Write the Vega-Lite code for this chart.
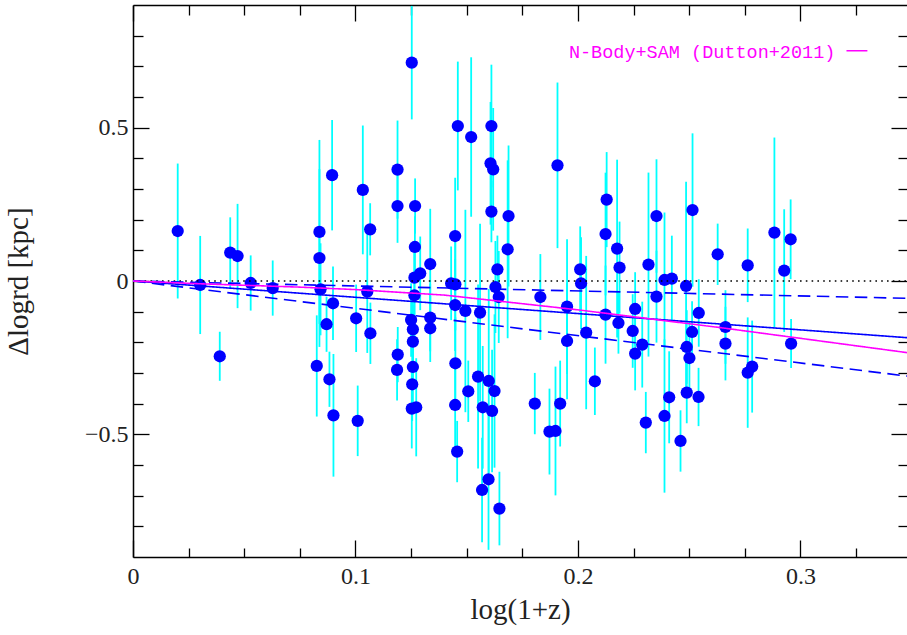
{
  "$schema": "https://vega.github.io/schema/vega-lite/v6.json",
  "width": 774,
  "height": 552,
  "autosize": "none",
  "padding": {"left": 133, "top": 5, "right": 0, "bottom": 78},
  "background": "white",
  "config": {
    "view": {"stroke": null},
    "style": {
      "guide-label": {"font": "Liberation Serif", "fontSize": 24, "fill": "#222222"},
      "guide-title": {"font": "Liberation Serif", "fontSize": 29, "fontWeight": "normal", "fill": "#222222"}
    },
    "axis": {
      "grid": false,
      "domainColor": "black",
      "domainWidth": 1.5,
      "tickColor": "black",
      "tickWidth": 1.3,
      "labelFont": "Liberation Serif",
      "labelFontSize": 24,
      "labelFlush": false,
      "labelOverlap": false
    }
  },
  "layer": [
    {
      "data": {"values": [
        {"x":0.0201,"y":0.163,"e":0.22},{"x":0.0302,"y":-0.013,"e":0.16},{"x":0.0437,"y":0.0926,"e":0.115},{"x":0.047,"y":0.0815,"e":0.17},
        {"x":0.0529,"y":-0.0065,"e":0.09},{"x":0.0628,"y":-0.023,"e":0.09},{"x":0.039,"y":-0.2455,"e":0.08},{"x":0.0838,"y":0.16,"e":0.3},
        {"x":0.0838,"y":0.075,"e":0.29},{"x":0.0843,"y":-0.027,"e":0.15},{"x":0.0895,"y":0.345,"e":0.18},{"x":0.0899,"y":-0.0727,"e":0.12},
        {"x":0.087,"y":-0.141,"e":0.09},{"x":0.0826,"y":-0.277,"e":0.165},{"x":0.0883,"y":-0.3205,"e":0.09},{"x":0.0901,"y":-0.438,"e":0.2},
        {"x":0.1003,"y":-0.1216,"e":0.11},{"x":0.101,"y":-0.456,"e":0.115},{"x":0.1033,"y":0.297,"e":0.21},{"x":0.1066,"y":0.1686,"e":0.085},
        {"x":0.1053,"y":-0.0346,"e":0.2},{"x":0.1067,"y":-0.1705,"e":0.1},{"x":0.1189,"y":0.3632,"e":0.16},{"x":0.1189,"y":0.2445,"e":0.12},
        {"x":0.119,"y":-0.24,"e":0.09},{"x":0.1187,"y":-0.29,"e":0.1},{"x":0.1253,"y":0.712,"e":0.185},{"x":0.1268,"y":0.2445,"e":0.09},
        {"x":0.1267,"y":0.111,"e":0.1},{"x":0.1265,"y":0.011,"e":0.12},{"x":0.1291,"y":0.025,"e":0.12},{"x":0.1336,"y":0.0554,"e":0.18},
        {"x":0.1265,"y":-0.0466,"e":0.15},{"x":0.125,"y":-0.127,"e":0.12},{"x":0.1258,"y":-0.1575,"e":0.12},{"x":0.1258,"y":-0.1976,"e":0.12},
        {"x":0.1258,"y":-0.2804,"e":0.12},{"x":0.1255,"y":-0.3368,"e":0.12},{"x":0.1253,"y":-0.416,"e":0.13},{"x":0.1273,"y":-0.4118,"e":0.16},
        {"x":0.1336,"y":-0.1193,"e":0.11},{"x":0.1336,"y":-0.1542,"e":0.11},{"x":0.146,"y":0.5054,"e":0.21},{"x":0.1448,"y":0.1467,"e":0.19},
        {"x":0.143,"y":-0.0075,"e":0.12},{"x":0.1449,"y":-0.0108,"e":0.15},{"x":0.1448,"y":-0.0783,"e":0.15},{"x":0.1494,"y":-0.0978,"e":0.33},
        {"x":0.1449,"y":-0.2683,"e":0.15},{"x":0.1448,"y":-0.4043,"e":0.15},{"x":0.1457,"y":-0.5562,"e":0.1},{"x":0.1507,"y":-0.3596,"e":0.1},
        {"x":0.152,"y":0.4695,"e":0.26},{"x":0.156,"y":-0.103,"e":0.29},{"x":0.1551,"y":-0.3117,"e":0.3},{"x":0.1599,"y":-0.326,"e":0.3},
        {"x":0.1625,"y":-0.3587,"e":0.25},{"x":0.1572,"y":-0.4118,"e":0.2},{"x":0.1614,"y":-0.4239,"e":0.2},{"x":0.1598,"y":-0.6466,"e":0.23},
        {"x":0.1569,"y":-0.6815,"e":0.17},{"x":0.1647,"y":-0.742,"e":0.12},{"x":0.1611,"y":0.5054,"e":0.2},{"x":0.1607,"y":0.3838,"e":0.2},
        {"x":0.1619,"y":0.3642,"e":0.2},{"x":0.1611,"y":0.2263,"e":0.1},{"x":0.1688,"y":0.2119,"e":0.23},{"x":0.1684,"y":0.1034,"e":0.29},
        {"x":0.1638,"y":0.0381,"e":0.11},{"x":0.1629,"y":-0.0196,"e":0.15},{"x":0.1644,"y":-0.0522,"e":0.15},{"x":0.1831,"y":-0.0522,"e":0.14},
        {"x":0.1908,"y":0.3772,"e":0.27},{"x":0.1951,"y":-0.0835,"e":0.22},{"x":0.1951,"y":-0.1956,"e":0.19},{"x":0.1806,"y":-0.3997,"e":0.1},
        {"x":0.1872,"y":-0.491,"e":0.14},{"x":0.1899,"y":-0.4891,"e":0.21},{"x":0.192,"y":-0.3997,"e":0.14},{"x":0.201,"y":0.0381,"e":0.14},
        {"x":0.2014,"y":-0.0075,"e":0.15},{"x":0.2037,"y":-0.1682,"e":0.25},{"x":0.2076,"y":-0.327,"e":0.11},{"x":0.2129,"y":0.2654,"e":0.155},
        {"x":0.2124,"y":0.1532,"e":0.2},{"x":0.2176,"y":0.1056,"e":0.29},{"x":0.2187,"y":0.0437,"e":0.15},{"x":0.2124,"y":-0.1096,"e":0.16},
        {"x":0.2182,"y":-0.1369,"e":0.1},{"x":0.2257,"y":-0.0913,"e":0.12},{"x":0.2246,"y":-0.163,"e":0.12},{"x":0.2289,"y":-0.2074,"e":0.14},
        {"x":0.2257,"y":-0.2367,"e":0.12},{"x":0.2305,"y":-0.4617,"e":0.1},{"x":0.2317,"y":0.0535,"e":0.3},{"x":0.2353,"y":0.2119,"e":0.185},
        {"x":0.2353,"y":-0.0509,"e":0.15},{"x":0.2389,"y":0.0033,"e":0.22},{"x":0.2422,"y":0.0078,"e":0.14},{"x":0.2389,"y":-0.4402,"e":0.25},
        {"x":0.241,"y":-0.3792,"e":0.15},{"x":0.2461,"y":-0.5217,"e":0.1},{"x":0.2486,"y":-0.0163,"e":0.34},{"x":0.2515,"y":0.2315,"e":0.25},
        {"x":0.2543,"y":-0.1043,"e":0.11},{"x":0.2513,"y":-0.1663,"e":0.1},{"x":0.2489,"y":-0.2152,"e":0.12},{"x":0.2501,"y":-0.2511,"e":0.12},
        {"x":0.2489,"y":-0.3639,"e":0.1},{"x":0.2542,"y":-0.3782,"e":0.095},{"x":0.2628,"y":0.0871,"e":0.1},{"x":0.2663,"y":-0.15,"e":0.12},
        {"x":0.2663,"y":-0.2041,"e":0.12},{"x":0.2763,"y":0.0512,"e":0.12},{"x":0.2763,"y":-0.2987,"e":0.18},{"x":0.2783,"y":-0.2791,"e":0.15},
        {"x":0.2883,"y":0.1578,"e":0.31},{"x":0.2927,"y":0.0339,"e":0.2},{"x":0.2956,"y":0.136,"e":0.13},{"x":0.2958,"y":-0.2041,"e":0.08}
      ]},
      "encoding": {
        "x": {
          "field": "x", "type": "quantitative",
          "scale": {"domain": [0, 0.3479], "nice": false, "zero": false},
          "axis": {
            "orient": "bottom",
            "values": [0, 0.025, 0.05, 0.075, 0.1, 0.125, 0.15, 0.175, 0.2, 0.225, 0.25, 0.275, 0.3, 0.325],
            "labelExpr": "abs(datum.value*10 - round(datum.value*10)) < 0.01 ? format(datum.value, '~g') : ''",
            "tickSize": {"condition": {"test": "abs(datum.value*10 - round(datum.value*10)) < 0.01", "value": -17}, "value": -9},
            "labelFont": "Liberation Serif",
            "labelFontSize": 24,
            "labelColor": "#222222",
            "labelPadding": 24,
            "title": "log(1+z)",
            "titleFont": "Liberation Serif",
            "titleFontSize": 29,
            "titleFontWeight": "normal",
            "titleColor": "#222222",
            "titleBaseline": "alphabetic",
            "titleY": 61
          }
        },
        "y": {
          "field": "y", "type": "quantitative",
          "scale": {"domain": [-0.9, 0.9], "nice": false, "zero": false},
          "axis": {
            "orient": "left",
            "values": [-0.8, -0.7, -0.6, -0.5, -0.4, -0.3, -0.2, -0.1, 0, 0.1, 0.2, 0.3, 0.4, 0.5, 0.6, 0.7, 0.8],
            "labelExpr": "abs(datum.value*2 - round(datum.value*2)) < 0.01 ? format(datum.value, '~g') : ''",
            "tickSize": {"condition": {"test": "abs(datum.value*2 - round(datum.value*2)) < 0.01", "value": -16}, "value": -10},
            "labelFont": "Liberation Serif",
            "labelFontSize": 24,
            "labelColor": "#222222",
            "labelPadding": 21,
            "title": "Δlogrd [kpc]",
            "titleFont": "Liberation Serif",
            "titleFontSize": 29,
            "titleFontWeight": "normal",
            "titleColor": "#222222",
            "titleBaseline": "alphabetic",
            "titleX": -106
          }
        }
      },
      "layer": [
        {"mark": {"type": "errorbar", "color": "#00ffff", "thickness": 1.8}, "encoding": {"yError": {"field": "e"}}},
        {"mark": {"type": "circle", "color": "#0000ff", "opacity": 1, "size": 150}}
      ]
    },
    {
      "data": {"values": [
        {"s":"zero","x":0,"y":0},{"s":"zero","x":0.3479,"y":0},
        {"s":"fit","x":0,"y":0},{"s":"fit","x":0.3479,"y":-0.1848},
        {"s":"up","x":0,"y":0},{"s":"up","x":0.3479,"y":-0.0564},
        {"s":"lo","x":0,"y":0},{"s":"lo","x":0.3479,"y":-0.31},
        {"s":"sam","x":0,"y":0},{"s":"sam","x":0.03,"y":-0.009},{"s":"sam","x":0.075,"y":-0.02},{"s":"sam","x":0.1,"y":-0.028},
        {"s":"sam","x":0.14,"y":-0.046},{"s":"sam","x":0.2,"y":-0.094},{"s":"sam","x":0.264,"y":-0.152},{"s":"sam","x":0.3479,"y":-0.2335},
        {"s":"key","x":0.3207,"y":0.7506},{"s":"key","x":0.3301,"y":0.7506}
      ]},
      "encoding": {
        "x": {
          "field": "x", "type": "quantitative",
          "scale": {"domain": [0, 0.3479], "nice": false, "zero": false},
          "axis": {
            "orient": "top",
            "values": [0, 0.025, 0.05, 0.075, 0.1, 0.125, 0.15, 0.175, 0.2, 0.225, 0.25, 0.275, 0.3, 0.325],
            "labels": false,
            "title": null,
            "tickSize": {"condition": {"test": "abs(datum.value*10 - round(datum.value*10)) < 0.01", "value": -16}, "value": -10}
          }
        },
        "y": {
          "field": "y", "type": "quantitative",
          "scale": {"domain": [-0.9, 0.9], "nice": false, "zero": false},
          "axis": {
            "orient": "right",
            "values": [-0.8, -0.7, -0.6, -0.5, -0.4, -0.3, -0.2, -0.1, 0, 0.1, 0.2, 0.3, 0.4, 0.5, 0.6, 0.7, 0.8],
            "labels": false,
            "title": null,
            "domain": false,
            "tickSize": {"condition": {"test": "abs(datum.value*2 - round(datum.value*2)) < 0.01", "value": -16}, "value": -9}
          }
        }
      },
      "layer": [
        {
          "mark": {"type": "line", "strokeWidth": 1.6},
          "encoding": {
            "detail": {"field": "s", "type": "nominal"},
            "color": {"field": "s", "type": "nominal", "legend": null,
              "scale": {"domain": ["zero", "fit", "up", "lo", "sam", "key"], "range": ["#000000", "#0000ff", "#0000ff", "#0000ff", "#ff00ff", "#ff00ff"]}},
            "strokeDash": {"field": "s", "type": "nominal", "legend": null,
              "scale": {"domain": ["zero", "fit", "up", "lo", "sam", "key"], "range": [[1.6, 4.2], [1, 0], [12.5, 6.5], [12.5, 6.5], [1, 0], [1, 0]]}}
          }
        },
        {
          "data": {"values": [{"x": 0.3157, "y": 0.7457, "label": "N-Body+SAM (Dutton+2011)"}]},
          "mark": {"type": "text", "align": "right", "baseline": "middle", "font": "Liberation Mono", "fontSize": 18.5, "color": "#ff00ff"},
          "encoding": {"text": {"field": "label"}}
        }
      ]
    }
  ],
  "resolve": {
    "scale": {"x": "independent", "y": "independent", "color": "independent", "strokeDash": "independent"},
    "axis": {"x": "independent", "y": "independent"}
  }
}
